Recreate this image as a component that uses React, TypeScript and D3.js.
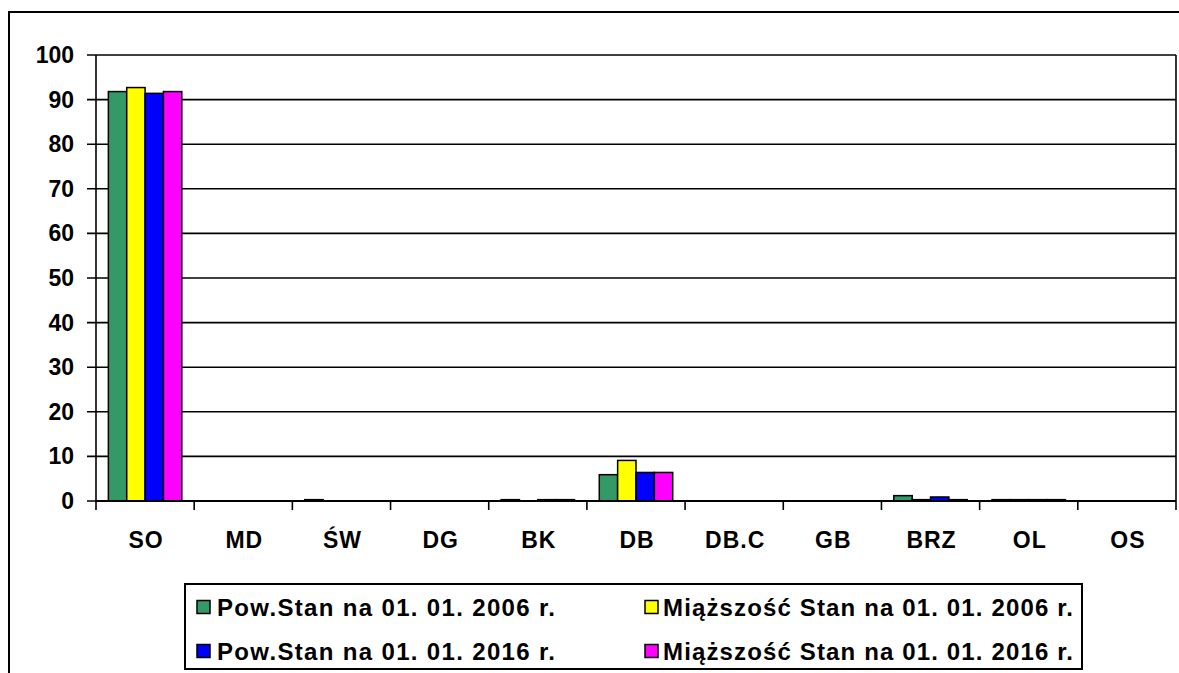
import { useEffect, useRef } from "react";
import * as d3 from "d3";

const categories = ["SO", "MD", "ŚW", "DG", "BK", "DB", "DB.C", "GB", "BRZ", "OL", "OS"];
const seriesNames = [
  "Pow.Stan na 01. 01. 2006 r.",
  "Miąższość Stan na 01. 01. 2006 r.",
  "Pow.Stan na 01. 01. 2016 r.",
  "Miąższość Stan na 01. 01. 2016 r.",
];
const pow2006 = [91.8, 0, 0.3, 0, 0.3, 5.9, 0, 0, 1.2, 0.3, 0];
const mia2006 = [92.7, 0, 0, 0, 0, 9.1, 0, 0, 0.3, 0.3, 0];
const pow2016 = [91.4, 0, 0, 0, 0.3, 6.4, 0, 0, 0.9, 0.3, 0];
const mia2016 = [91.8, 0, 0, 0, 0.3, 6.4, 0, 0, 0.3, 0.3, 0];
const yTicks = [0, 10, 20, 30, 40, 50, 60, 70, 80, 90, 100];
const colors = ["#339966", "#FFFF00", "#0000FF", "#FF00FF"];

const FONT = "'Liberation Sans', Arial, sans-serif";

export default function App() {
  const svgRef = useRef<SVGSVGElement>(null);

  useEffect(() => {
    if (!svgRef.current) return;
    const svg = d3.select(svgRef.current);
    svg.selectAll("*").remove();

    const width = 1179;
    const height = 673;
    const plot = { left: 96, right: 1176, top: 55, bottom: 501 };

    svg.attr("width", width).attr("height", height);

    // outer frame (cropped)
    svg.append("line").attr("x1", 8).attr("x2", width).attr("y1", 12).attr("y2", 12)
      .attr("stroke", "#000").attr("stroke-width", 2);
    svg.append("line").attr("x1", 9).attr("x2", 9).attr("y1", 12).attr("y2", height)
      .attr("stroke", "#000").attr("stroke-width", 2);

    const x = d3.scaleBand().domain(categories).range([plot.left, plot.right]).padding(0);
    const y = d3.scaleLinear().domain([0, 100]).range([plot.bottom, plot.top]);
    const bw = x.bandwidth();
    const x1 = d3.scaleBand<number>().domain([0, 1, 2, 3])
      .range([bw * 0.126, bw * (1 - 0.126)]).padding(0);

    // gridlines
    svg.append("g")
      .selectAll("line")
      .data(yTicks)
      .enter()
      .append("line")
      .attr("x1", plot.left - 9)
      .attr("x2", plot.right)
      .attr("y1", (d) => y(d))
      .attr("y2", (d) => y(d))
      .attr("stroke", "#000")
      .attr("stroke-width", 1.6);

    // y labels
    svg.append("g")
      .selectAll("text")
      .data(yTicks)
      .enter()
      .append("text")
      .attr("x", 74)
      .attr("y", (d) => y(d) + 8)
      .attr("text-anchor", "end")
      .attr("font-family", FONT)
      .attr("font-weight", "bold")
      .attr("font-size", "23px")
      .text((d) => String(d));

    // bars
    const series = [pow2006, mia2006, pow2016, mia2016];
    series.forEach((vals, si) => {
      svg.append("g")
        .selectAll("rect")
        .data(vals.map((v, i) => ({ v, c: categories[i] })).filter((d) => d.v > 0))
        .enter()
        .append("rect")
        .attr("x", (d) => x(d.c)! + x1(si)!)
        .attr("y", (d) => y(d.v))
        .attr("width", x1.bandwidth())
        .attr("height", (d) => plot.bottom - y(d.v))
        .attr("fill", colors[si])
        .attr("stroke", "#000")
        .attr("stroke-width", 1.5);
    });

    // axes lines
    svg.append("line").attr("x1", plot.left).attr("x2", plot.left)
      .attr("y1", plot.top).attr("y2", plot.bottom + 9)
      .attr("stroke", "#000").attr("stroke-width", 1.6);
    svg.append("line").attr("x1", plot.right).attr("x2", plot.right)
      .attr("y1", plot.top).attr("y2", plot.bottom + 9)
      .attr("stroke", "#000").attr("stroke-width", 1.6);
    svg.append("line").attr("x1", plot.left).attr("x2", plot.right)
      .attr("y1", plot.bottom).attr("y2", plot.bottom)
      .attr("stroke", "#000").attr("stroke-width", 2.2);

    // category ticks
    svg.append("g")
      .selectAll("line")
      .data(categories.slice(1))
      .enter()
      .append("line")
      .attr("x1", (d) => x(d)!)
      .attr("x2", (d) => x(d)!)
      .attr("y1", plot.bottom)
      .attr("y2", plot.bottom + 9)
      .attr("stroke", "#000")
      .attr("stroke-width", 1.6);

    // category labels
    svg.append("g")
      .selectAll("text")
      .data(categories)
      .enter()
      .append("text")
      .attr("x", (d) => x(d)! + bw / 2 + 1)
      .attr("y", 548)
      .attr("text-anchor", "middle")
      .attr("font-family", FONT)
      .attr("font-weight", "bold")
      .attr("font-size", "23px")
      .attr("letter-spacing", "1px")
      .text((d) => d);

    // legend
    const legend = svg.append("g");
    legend.append("rect")
      .attr("x", 185).attr("y", 584).attr("width", 897).attr("height", 85)
      .attr("fill", "#fff").attr("stroke", "#000").attr("stroke-width", 2);
    const items = [
      { sx: 197, ty: 607, tx: 217, tw: 338 },
      { sx: 645, ty: 607, tx: 663, tw: 410 },
      { sx: 197, ty: 651, tx: 217, tw: 338 },
      { sx: 645, ty: 651, tx: 663, tw: 410 },
    ];
    items.forEach((it, i) => {
      legend.append("rect")
        .attr("x", it.sx).attr("y", it.ty - 6.5).attr("width", 13).attr("height", 13)
        .attr("fill", colors[i]).attr("stroke", "#000").attr("stroke-width", 1.5);
      legend.append("text")
        .attr("x", it.tx)
        .attr("y", it.ty + 8.5)
        .attr("font-family", FONT)
        .attr("font-weight", "bold")
        .attr("font-size", "24px")
        .attr("textLength", it.tw)
        .attr("lengthAdjust", "spacing")
        .text(seriesNames[i]);
    });
  }, []);

  return (
    <div style={{ position: "absolute", left: 0, top: 0, background: "#fff" }}>
      <svg ref={svgRef} style={{ display: "block" }}></svg>
    </div>
  );
}
